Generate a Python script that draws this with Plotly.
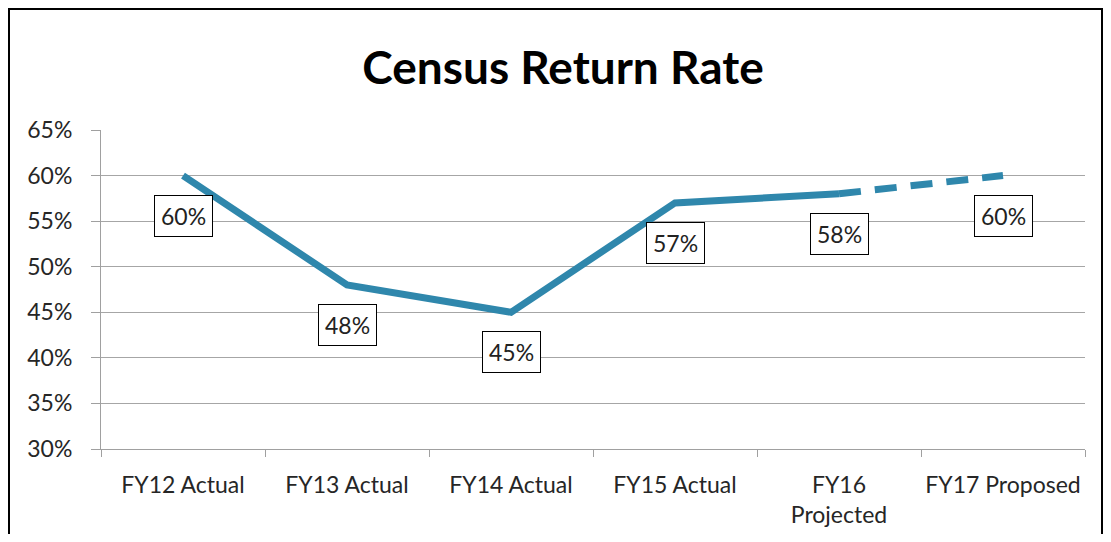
import plotly.graph_objects as go

categories = ["FY12 Actual", "FY13 Actual", "FY14 Actual", "FY15 Actual", "FY16<br>Projected", "FY17 Proposed"]
actual_values = [60, 48, 45, 57, 58]
projected_values = [58, 60]
label_values = [60, 48, 45, 57, 58, 60]
y_ticks = [30, 35, 40, 45, 50, 55, 60, 65]

color = "#2F87AC"
font_family = "Lato"

fig = go.Figure()
fig.add_trace(go.Scatter(x=categories[:5], y=actual_values, mode="lines",
                         line=dict(color=color, width=7), hoverinfo="skip"))
fig.add_trace(go.Scatter(x=categories[4:], y=projected_values, mode="lines",
                         line=dict(color=color, width=7, dash="22px,14px"), hoverinfo="skip"))

for c, v in zip(categories, label_values):
    fig.add_annotation(x=c, y=v, text=f"{v}%", showarrow=False, yshift=-40,
                       bgcolor="white", bordercolor="black", borderwidth=1, borderpad=6,
                       font=dict(family=font_family, size=23, color="#222"))

# the page body has an 8px margin; size and place the figure so the result lands like the reference
OFF = 8
W, H = 1111 - 2 * OFF, 542 - 2 * OFF
L = 101 - OFF
T = 130 - OFF
R = W - (1085 - OFF)
B = H - (449 - OFF)
pw, ph = W - L - R, H - T - B
fig.add_shape(type="rect", xref="paper", yref="paper",
              x0=(1 - L) / pw, x1=(W - 1 - L) / pw,
              y0=(H - B - 600) / ph, y1=(H - B - 1) / ph,
              line=dict(color="black", width=2), fillcolor="rgba(0,0,0,0)")

fig.update_layout(
    width=W, height=H,
    margin=dict(l=L, r=R, t=T, b=B, autoexpand=False),
    paper_bgcolor="white", plot_bgcolor="white",
    showlegend=False,
    title=dict(text="<b>Census Return Rate</b>", x=(563 - OFF) / W, xanchor="center",
               y=(H - (68 - OFF)) / H, yanchor="middle",
               font=dict(family=font_family, size=46, color="black")),
    font=dict(family=font_family, size=20, color="#222"),
)
fig.update_xaxes(type="category", range=[-0.5, 5.5], tickson="boundaries", ticks="outside",
                 ticklen=7, tickcolor="#A0A0A0", showline=True, linecolor="#A0A0A0", linewidth=1,
                 showgrid=False, ticklabelstandoff=15, tickangle=0, automargin=False,
                 tickfont=dict(size=23, family=font_family, color="#262626"))
fig.update_yaxes(range=[30, 65], tickvals=y_ticks, ticktext=[f"{t}%" for t in y_ticks],
                 ticks="outside", ticklen=9, tickcolor="#A0A0A0", showline=True, linecolor="#A0A0A0",
                 linewidth=1, showgrid=True, gridcolor="#A6A6A6", gridwidth=1, zeroline=False,
                 automargin=False, ticklabelposition="outside", ticklabelstandoff=14,
                 tickfont=dict(size=23, family=font_family, color="#262626"))

fig.write_html("out.html")
